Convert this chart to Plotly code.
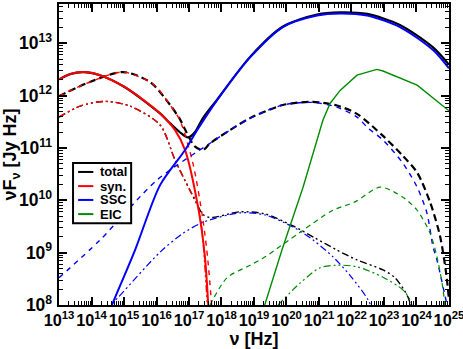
import numpy as np
import plotly.graph_objects as go

# all values as log10(nu [Hz]) and log10(nuFnu [Jy Hz])

# case 1 (solid)
syn1_x = [13.0, 13.34, 13.74, 14.26, 15.03, 16.11, 16.57, 16.88, 17.28, 17.49, 17.61]
syn1_y = [12.31, 12.41, 12.45, 12.39, 12.16, 11.66, 11.34, 10.96, 9.87, 8.92, 7.8]
ssc1_x = [14.57, 14.63, 15.34, 16.11, 16.88, 17.25, 17.86, 18.88, 19.89, 20.94, 21.65, 22.48, 23.49, 24.51, 25.0]
ssc1_y = [7.9, 8.0, 9.05, 10.29, 10.96, 11.34, 11.91, 12.73, 13.31, 13.53, 13.57, 13.53, 13.31, 12.87, 12.52]
eic1_x = [19.28, 19.86, 20.51, 21.12, 21.34, 21.65, 22.17, 22.78, 22.97, 24.02, 25.0]
eic1_y = [7.9, 9.05, 10.25, 11.53, 11.85, 12.1, 12.39, 12.5, 12.47, 12.2, 11.71]
tot1_x = [13.0, 13.34, 13.74, 14.26, 15.03, 16.11, 16.42, 16.72, 16.97, 17.18, 17.43, 17.86, 18.88, 19.89, 20.94, 21.65, 22.48, 23.49, 24.51, 25.0]
tot1_y = [12.31, 12.41, 12.45, 12.39, 12.16, 11.66, 11.47, 11.3, 11.2, 11.3, 11.57, 11.92, 12.74, 13.32, 13.55, 13.59, 13.56, 13.35, 12.92, 12.59]

# case 2 (dashed)
syn2_x = [13.0, 13.95, 14.97, 15.8, 16.02, 16.42, 16.72, 17.12, 17.43, 17.58, 17.71]
syn2_y = [11.99, 12.26, 12.45, 12.26, 12.15, 11.82, 11.53, 10.71, 9.62, 8.86, 7.9]
ssc2_x = [13.0, 14.26, 16.02, 17.65, 18.26, 18.88, 19.89, 20.78, 21.55, 22.17, 22.51, 22.97, 23.58, 24.02, 24.32, 24.51, 24.63, 24.94]
ssc2_y = [8.52, 9.24, 10.39, 11.09, 11.34, 11.57, 11.82, 11.87, 11.78, 11.59, 11.38, 11.15, 10.71, 10.25, 9.76, 9.11, 8.86, 8.0]
eic2_x = [17.65, 18.17, 18.88, 19.34, 20.42, 21.43, 22.11, 22.88, 23.58, 24.02, 24.42, 24.63, 24.82, 24.88]
eic2_y = [8.0, 8.52, 8.76, 8.92, 9.39, 9.81, 9.97, 10.25, 10.06, 9.81, 9.37, 8.92, 8.29, 7.9]
tot2_x = [13.0, 13.95, 14.97, 15.8, 16.42, 16.72, 16.97, 17.18, 17.43, 17.65, 18.26, 18.88, 19.89, 20.78, 21.55, 22.17, 22.97, 23.58, 24.02, 24.42, 24.72, 24.91, 25.0]
tot2_y = [11.99, 12.26, 12.45, 12.26, 11.82, 11.55, 11.24, 11.03, 10.96, 11.09, 11.34, 11.57, 11.82, 11.88, 11.81, 11.65, 11.23, 10.85, 10.53, 9.96, 9.33, 8.62, 8.1]

# case 3 (dash-dot-dot)
syn3_x = [13.0, 13.65, 14.42, 15.18, 16.11, 16.57, 17.03, 17.25, 17.4, 17.58]
syn3_y = [11.59, 11.8, 11.89, 11.8, 11.44, 10.77, 10.19, 9.95, 9.43, 7.8]
ssc3_x = [14.42, 14.66, 16.11, 16.82, 17.43, 18.57, 19.34, 20.2, 20.82, 21.43, 21.95, 22.51, 22.65]
ssc3_y = [7.9, 8.04, 9.01, 9.37, 9.58, 9.76, 9.72, 9.49, 9.24, 8.92, 8.57, 8.1, 7.9]
eic3_x = [19.74, 20.42, 21.03, 21.55, 22.17, 22.97, 23.58, 23.8, 23.9]
eic3_y = [8.0, 8.42, 8.71, 8.76, 8.73, 8.53, 8.29, 8.1, 7.9]
tot3_x = [13.0, 13.65, 14.42, 15.18, 16.11, 16.57, 17.03, 17.25, 17.43, 17.65, 18.57, 19.34, 20.2, 20.88, 21.55, 22.17, 22.97, 23.34, 23.74, 23.85]
tot3_y = [11.59, 11.8, 11.89, 11.8, 11.44, 10.77, 10.19, 9.92, 9.73, 9.67, 9.78, 9.74, 9.51, 9.28, 9.05, 8.86, 8.67, 8.52, 8.15, 7.9]

legend_names = ["total", "syn.", "SSC", "EIC"]

RED = "#ff0000"
BLUE = "#0000ff"
GREEN = "#008c00"
BLACK = "#000000"
legend_colors = [BLACK, RED, BLUE, GREEN]

DASH = "7px,4px"
DDOT = "7px,3px,2px,3px,2px,3px"
FONT = "Liberation Sans"

def curve(lx, ly, color, width, dash, shape="spline"):
    return go.Scatter(x=10 ** np.array(lx), y=10 ** np.array(ly),
                      mode="lines",
                      line=dict(color=color, width=width, dash=dash, shape=shape, smoothing=0.8),
                      showlegend=False, hoverinfo="skip")

fig = go.Figure()
# totals first, components on top
fig.add_trace(curve(tot1_x, tot1_y, BLACK, 2.2, "solid"))
fig.add_trace(curve(tot2_x, tot2_y, BLACK, 2.2, DASH))
fig.add_trace(curve(tot3_x, tot3_y, BLACK, 1.4, DDOT))

fig.add_trace(curve(syn1_x, syn1_y, RED, 2, "solid"))
fig.add_trace(curve(syn2_x, syn2_y, RED, 1.4, "5px,5px"))
fig.add_trace(curve(syn3_x, syn3_y, RED, 1.4, DDOT))

fig.add_trace(curve(ssc1_x, ssc1_y, BLUE, 2, "solid"))
fig.add_trace(curve(ssc2_x, ssc2_y, BLUE, 1.4, "5px,5px"))
fig.add_trace(curve(ssc3_x, ssc3_y, BLUE, 1.2, DDOT))

fig.add_trace(curve(eic1_x, eic1_y, GREEN, 1.4, "solid", shape="linear"))
fig.add_trace(curve(eic2_x, eic2_y, GREEN, 1.2, "5px,4px"))
fig.add_trace(curve(eic3_x, eic3_y, GREEN, 1.2, DDOT))

axis_common = dict(
    type="log", dtick=1, exponentformat="power", automargin=False,
    showline=True, linecolor="black", linewidth=2, mirror="allticks",
    ticks="inside", ticklen=8, tickwidth=2, tickcolor="black",
    minor=dict(ticks="inside", ticklen=4, tickwidth=1, tickcolor="black", dtick="D1", showgrid=False),
    showgrid=False, zeroline=False, ticklabeloverflow="allow",
)

fig.update_xaxes(range=[13, 25.0005], tickangle=0, ticklabelstandoff=0,
                 tickfont=dict(family=FONT, size=13, color="black", weight="bold"),
                 title=dict(text="ν [Hz]", standoff=3,
                            font=dict(family=FONT, size=18, color="black", weight="bold")),
                 **axis_common)
fig.update_yaxes(range=[8, 13.75], ticklabelstandoff=2,
                 tickfont=dict(family=FONT, size=14, color="black", weight="bold"),
                 title=dict(text="νF<sub>ν</sub> [Jy Hz]", standoff=4,
                            font=dict(family=FONT, size=18, color="black", weight="bold")),
                 **axis_common)

# hand-made legend box (Grace style, tight rows)
fig.add_shape(type="rect", xref="paper", yref="paper", x0=0.036, x1=0.185, y0=0.272, y1=0.472,
              line=dict(color="black", width=2), fillcolor="white", layer="above")
row_y = [0.442, 0.395, 0.349, 0.302]
for name, col, yy in zip(legend_names, legend_colors, row_y):
    fig.add_shape(type="line", xref="paper", yref="paper", x0=0.049, x1=0.088, y0=yy, y1=yy,
                  line=dict(color=col, width=2), layer="above")
    fig.add_annotation(x=0.103, y=yy, xref="paper", yref="paper", text=name, showarrow=False,
                       xanchor="left", yanchor="middle", borderpad=0,
                       font=dict(family=FONT, size=13, color="black", weight="bold"))

fig.update_layout(
    width=463, height=349,
    margin=dict(l=59, r=14, t=4, b=44),
    plot_bgcolor="white", paper_bgcolor="white",
    showlegend=False,
)

# the page body has an 8px default margin; drop it so the figure fills the window
fig.write_html("out.html", config={"displayModeBar": False},
               post_script="document.body.style.margin='0px';")
